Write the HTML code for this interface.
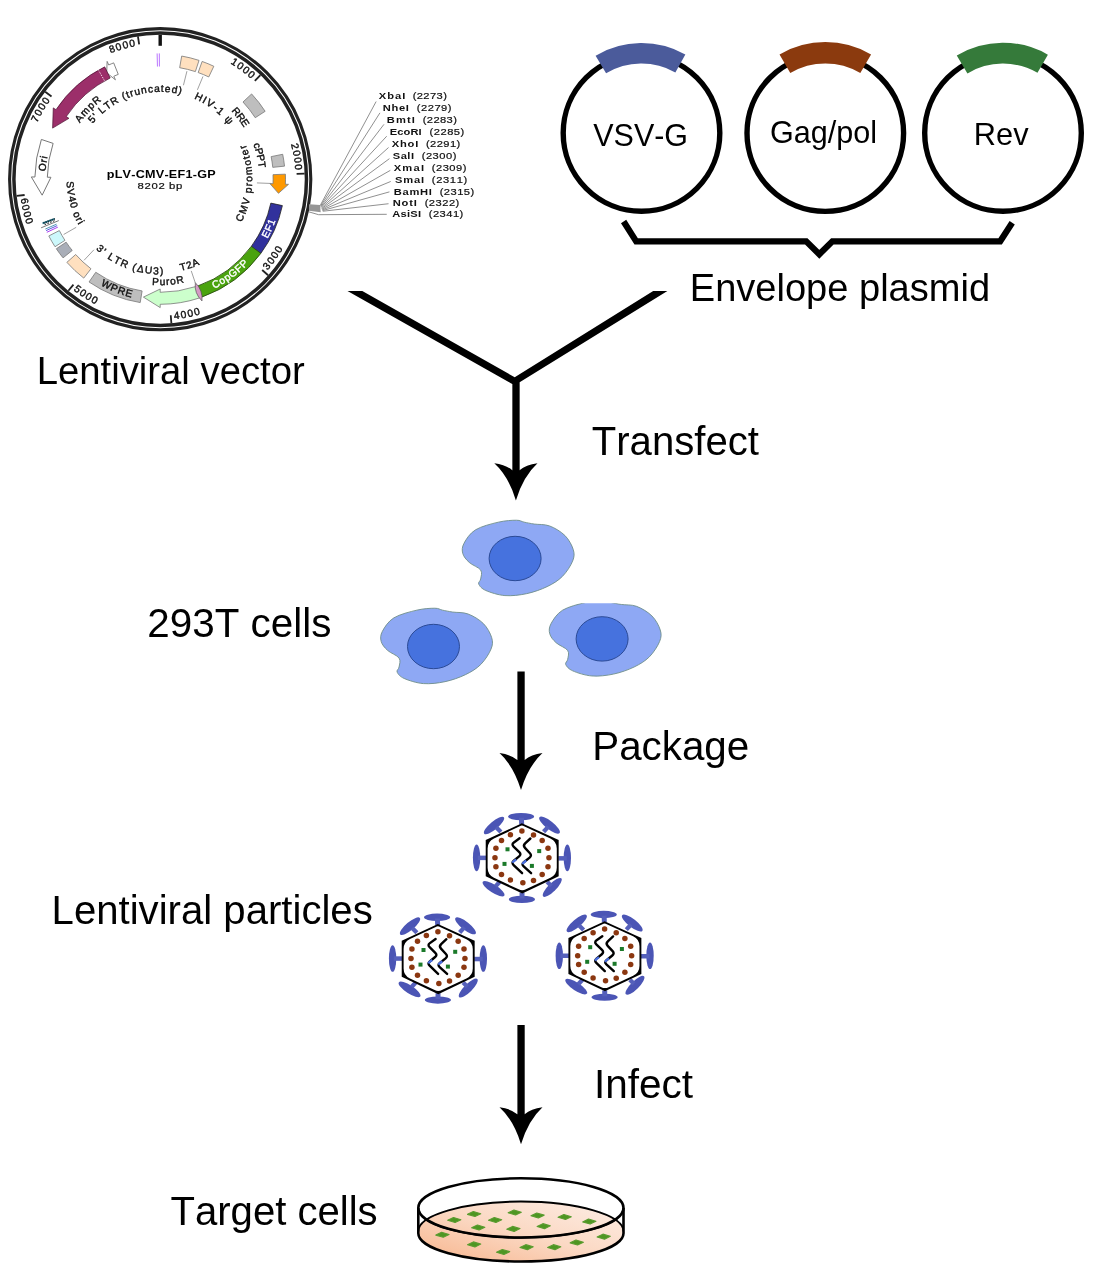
<!DOCTYPE html>
<html><head><meta charset="utf-8"><title>Lentiviral packaging workflow</title>
<style>
html,body{margin:0;padding:0;background:#fff;}
body{width:1096px;height:1275px;overflow:hidden;font-family:"Liberation Sans",sans-serif;}
svg{display:block;}
text{font-family:"Liberation Sans",sans-serif;font-kerning:none;}
</style></head><body>
<svg width="1096" height="1275" viewBox="0 0 1096 1275" style="will-change:transform">
<rect width="1096" height="1275" fill="#fff"/>
<defs><g id="cell"><path d="M516.42 520.22C512.16 520.22 505.35 520.54 498.54 522.13C491.73 523.73 481.29 526.29 475.55 529.80C469.80 533.31 466.18 539.27 464.05 543.21C461.92 547.15 461.92 550.24 462.77 553.43C463.62 556.62 466.18 559.60 469.16 562.37C472.14 565.14 478.74 567.27 480.66 570.03C482.57 572.80 480.97 576.63 480.66 578.97C480.34 581.32 477.89 582.17 478.74 584.08C479.59 586.00 481.40 588.55 485.76 590.47C490.13 592.39 498.11 595.05 504.92 595.58C511.74 596.11 519.61 595.15 526.64 593.66C533.66 592.17 541.11 589.51 547.07 586.64C553.04 583.76 558.14 580.68 562.40 576.42C566.66 572.16 570.81 565.56 572.62 561.09C574.43 556.62 574.54 553.85 573.26 549.60C571.98 545.34 568.90 539.48 564.96 535.55C561.02 531.61 554.74 527.88 549.63 525.97C544.52 524.05 538.56 524.69 534.30 524.05C530.04 523.41 527.06 522.77 524.08 522.13C521.10 521.50 520.68 520.22 516.42 520.22Z" fill="#8EA8F4" stroke="#6F8F8A" stroke-width="0.9"/><ellipse cx="515.1" cy="558.5" rx="26" ry="22.2" fill="#4672DE" stroke="#2B4A96" stroke-width="1"/></g><g id="virus"><ellipse cx="-0.83" cy="-41.51" rx="13.05" ry="3.68" transform="rotate(0 -0.83 -41.51)" fill="#4B55B5"/><ellipse cx="0.00" cy="41.28" rx="13.05" ry="3.56" transform="rotate(0 0.00 41.28)" fill="#4B55B5"/><ellipse cx="-45.31" cy="-0.24" rx="3.68" ry="13.28" transform="rotate(0 -45.31 -0.24)" fill="#4B55B5"/><ellipse cx="45.43" cy="-0.24" rx="3.68" ry="13.28" transform="rotate(0 45.43 -0.24)" fill="#4B55B5"/><ellipse cx="-27.87" cy="-32.62" rx="12.81" ry="4.03" transform="rotate(-40 -27.87 -32.62)" fill="#4B55B5"/><ellipse cx="27.64" cy="-32.97" rx="12.81" ry="4.03" transform="rotate(38 27.64 -32.97)" fill="#4B55B5"/><ellipse cx="-28.35" cy="30.60" rx="12.81" ry="4.03" transform="rotate(33 -28.35 30.60)" fill="#4B55B5"/><ellipse cx="30.36" cy="29.30" rx="12.81" ry="4.03" transform="rotate(-45 30.36 29.30)" fill="#4B55B5"/><line x1="-0.47" y1="-40.33" x2="-0.24" y2="-33.80" stroke="#5560BB" stroke-width="4.98"/><line x1="0.12" y1="34.40" x2="0.12" y2="40.33" stroke="#5560BB" stroke-width="4.98"/><line x1="-44.12" y1="-0.24" x2="-35.58" y2="-0.24" stroke="#5560BB" stroke-width="4.51"/><line x1="36.29" y1="0.24" x2="44.83" y2="0.24" stroke="#5560BB" stroke-width="4.51"/><line x1="-25.74" y1="-30.84" x2="-20.99" y2="-26.09" stroke="#5560BB" stroke-width="4.27"/><line x1="26.45" y1="-31.43" x2="21.71" y2="-26.33" stroke="#5560BB" stroke-width="4.27"/><line x1="-26.33" y1="28.23" x2="-22.18" y2="23.72" stroke="#5560BB" stroke-width="4.27"/><line x1="29.42" y1="27.87" x2="25.26" y2="23.72" stroke="#5560BB" stroke-width="4.27"/><polygon points="0.00,-34.87 36.77,-18.03 36.77,18.03 0.36,35.35 -36.18,18.03 -36.18,-18.03" fill="#000"/><path d="M-1.09 -32.23Q0.00 -32.74 1.09 -32.24L28.51 -19.65Q34.87 -16.72 34.87 -9.72L34.87 9.72Q34.87 16.72 28.54 19.71L3.97 31.27Q0.36 32.97 -3.27 31.27L-27.94 19.70Q-34.28 16.72 -34.28 9.72L-34.28 -9.72Q-34.28 -16.72 -27.94 -19.69Z" fill="#fff"/><circle cx="0.00" cy="-27.04" r="2.75" fill="#8B3710"/><circle cx="11.62" cy="-23.13" r="2.75" fill="#8B3710"/><circle cx="20.28" cy="-17.55" r="2.75" fill="#8B3710"/><circle cx="26.09" cy="-9.73" r="2.75" fill="#8B3710"/><circle cx="27.04" cy="-0.24" r="2.75" fill="#8B3710"/><circle cx="26.09" cy="8.54" r="2.75" fill="#8B3710"/><circle cx="20.28" cy="16.37" r="2.75" fill="#8B3710"/><circle cx="11.62" cy="22.30" r="2.75" fill="#8B3710"/><circle cx="0.95" cy="24.67" r="2.75" fill="#8B3710"/><circle cx="-11.51" cy="21.94" r="2.75" fill="#8B3710"/><circle cx="-20.40" cy="16.37" r="2.75" fill="#8B3710"/><circle cx="-25.98" cy="8.54" r="2.75" fill="#8B3710"/><circle cx="-26.92" cy="-0.24" r="2.75" fill="#8B3710"/><circle cx="-25.98" cy="-9.73" r="2.75" fill="#8B3710"/><circle cx="-20.40" cy="-17.55" r="2.75" fill="#8B3710"/><circle cx="-11.51" cy="-23.37" r="2.75" fill="#8B3710"/><rect x="-16.40" y="-10.80" width="4.0" height="4.0" fill="#1B7A2A"/><rect x="15.30" y="-9.00" width="4.0" height="4.0" fill="#1B7A2A"/><rect x="-19.40" y="3.80" width="4.0" height="4.0" fill="#1B7A2A"/><rect x="8.00" y="5.80" width="4.0" height="4.0" fill="#1B7A2A"/><path d="M-2.30 -19.80L-8.01 -15.67Q-10.60 -13.80 -8.30 -11.57L-2.60 -6.03Q-0.30 -3.80 -2.77 -1.76L-8.13 2.66Q-10.60 4.70 -8.29 6.92L0.20 15.10" fill="none" stroke="#000" stroke-width="2.4" stroke-linecap="round" stroke-linejoin="round"/><path d="M8.50 -19.60L3.24 -14.68Q0.90 -12.50 3.08 -10.16L8.02 -4.84Q10.20 -2.50 7.71 -0.49L1.89 4.19Q-0.60 6.20 1.77 8.35L9.20 15.10" fill="none" stroke="#000" stroke-width="2.4" stroke-linecap="round" stroke-linejoin="round"/><path d="M-5.6 1.3Q-8.5 3 -9.6 4.6" fill="none" stroke="#4A6FE0" stroke-width="2.3" stroke-linecap="butt"/><path d="M4.4 2.4Q1.5 4.3 0.4 5.9" fill="none" stroke="#4A6FE0" stroke-width="2.3" stroke-linecap="butt"/></g><clipPath id="cellclip"><rect x="540" y="603.3" width="130" height="90"/></clipPath></defs>
<g font-family="Liberation Sans, sans-serif">
<circle cx="160.2" cy="179.2" r="150.6" fill="none" stroke="#222" stroke-width="3.1"/>
<circle cx="160.2" cy="179.2" r="146.3" fill="none" stroke="#222" stroke-width="3.5"/>
<line x1="260.38" y1="75.07" x2="254.84" y2="80.83" stroke="#222" stroke-width="1.8"/>
<line x1="304.59" y1="173.61" x2="296.60" y2="173.92" stroke="#222" stroke-width="1.8"/>
<line x1="268.13" y1="275.28" x2="262.16" y2="269.96" stroke="#222" stroke-width="1.8"/>
<line x1="171.37" y1="323.27" x2="170.75" y2="315.29" stroke="#222" stroke-width="1.8"/>
<line x1="68.37" y1="290.77" x2="73.45" y2="284.59" stroke="#222" stroke-width="1.8"/>
<line x1="16.67" y1="195.93" x2="24.62" y2="195.01" stroke="#222" stroke-width="1.8"/>
<line x1="45.17" y1="91.75" x2="51.53" y2="96.59" stroke="#222" stroke-width="1.8"/>
<line x1="137.93" y1="36.43" x2="139.16" y2="44.33" stroke="#222" stroke-width="1.8"/>
<line x1="160.20" y1="34.70" x2="160.20" y2="45.80" stroke="#111" stroke-width="3.4"/>
<path id="lp1" d="M174.80 44.64A135.35 135.35 0 0 1 285.51 128.04" fill="none"/><text font-size="10.2" fill="#111" stroke="#111" stroke-width="0.4" font-weight="normal" letter-spacing="1.178" ><textPath href="#lp1" startOffset="50%" text-anchor="middle">1000</textPath></text>
<path id="lp2" d="M264.01 92.35A135.35 135.35 0 0 1 285.97 229.21" fill="none"/><text font-size="10.2" fill="#111" stroke="#111" stroke-width="0.4" font-weight="normal" letter-spacing="1.178" ><textPath href="#lp2" startOffset="50%" text-anchor="middle">2000</textPath></text>
<path id="lp3" d="M218.89 307.24A140.85 140.85 0 0 0 300.71 188.96" fill="none"/><text font-size="10.2" fill="#111" stroke="#111" stroke-width="0.4" font-weight="normal" letter-spacing="1.333" ><textPath href="#lp3" startOffset="50%" text-anchor="middle">3000</textPath></text>
<path id="lp4" d="M113.72 312.16A140.85 140.85 0 0 0 254.69 283.65" fill="none"/><text font-size="10.2" fill="#111" stroke="#111" stroke-width="0.4" font-weight="normal" letter-spacing="1.333" ><textPath href="#lp4" startOffset="50%" text-anchor="middle">4000</textPath></text>
<path id="lp5" d="M34.53 242.80A140.85 140.85 0 0 0 155.88 319.98" fill="none"/><text font-size="10.2" fill="#111" stroke="#111" stroke-width="0.4" font-weight="normal" letter-spacing="1.333" ><textPath href="#lp5" startOffset="50%" text-anchor="middle">5000</textPath></text>
<path id="lp6" d="M25.54 137.90A140.85 140.85 0 0 0 59.48 277.66" fill="none"/><text font-size="10.2" fill="#111" stroke="#111" stroke-width="0.4" font-weight="normal" letter-spacing="1.333" ><textPath href="#lp6" startOffset="50%" text-anchor="middle">6000</textPath></text>
<path id="lp7" d="M24.85 180.28A135.35 135.35 0 0 1 94.87 60.66" fill="none"/><text font-size="10.2" fill="#111" stroke="#111" stroke-width="0.4" font-weight="normal" letter-spacing="1.178" ><textPath href="#lp7" startOffset="50%" text-anchor="middle">7000</textPath></text>
<path id="lp8" d="M61.91 86.14A135.35 135.35 0 0 1 195.31 48.48" fill="none"/><text font-size="10.2" fill="#111" stroke="#111" stroke-width="0.4" font-weight="normal" letter-spacing="1.178" ><textPath href="#lp8" startOffset="50%" text-anchor="middle">8000</textPath></text>
<path d="M181.69 56.06A125.0 125.0 0 0 1 199.03 60.39L195.37 71.60A113.2 113.2 0 0 0 179.66 67.69Z" fill="#FFE0BF" stroke="#777" stroke-width="0.8"/>
<path d="M202.13 61.44A125.0 125.0 0 0 1 213.82 66.28L208.76 76.94A113.2 113.2 0 0 0 198.17 72.56Z" fill="#FFE0BF" stroke="#777" stroke-width="0.8"/>
<path d="M251.62 93.95A125.0 125.0 0 0 1 265.15 111.30L255.24 117.71A113.2 113.2 0 0 0 242.99 102.00Z" fill="#BEBEBE" stroke="#777" stroke-width="0.8"/>
<path d="M282.69 154.28A125.0 125.0 0 0 1 284.52 166.13L272.78 167.37A113.2 113.2 0 0 0 271.13 156.63Z" fill="#BEBEBE" stroke="#777" stroke-width="0.8"/>
<path d="M285.40 174.17A125.3 125.3 0 0 1 285.40 184.23L288.50 184.35L278.46 193.30L269.91 183.61L273.01 183.73A112.89999999999999 112.89999999999999 0 0 0 273.01 174.67Z" fill="#FF9900" stroke="#777" stroke-width="0.8" stroke-linejoin="miter"/>
<path d="M282.38 205.62A125.0 125.0 0 0 1 260.81 253.38L251.31 246.38A113.2 113.2 0 0 0 270.84 203.12Z" fill="#31319C" stroke="#222" stroke-width="0.8"/>
<path d="M260.81 253.38A125.0 125.0 0 0 1 202.13 296.96L198.17 285.84A113.2 113.2 0 0 0 251.31 246.38Z" fill="#4AA30E" stroke="#2c4f12" stroke-width="0.9"/>
<path d="M199.69 297.90A125.1 125.1 0 0 1 160.20 304.30L160.20 307.60L143.42 297.11L160.20 289.00L160.20 292.30A113.1 113.1 0 0 0 195.90 286.52Z" fill="#CCFFCC" stroke="#777" stroke-width="0.8" stroke-linejoin="miter"/>
<path d="M195.33 282.70Q203.04 290.22 201.99 300.92Q194.00 293.30 195.33 282.70Z" fill="#D59AC4" stroke="#555" stroke-width="0.7"/>
<path d="M140.21 302.59A125.0 125.0 0 0 1 89.04 281.97L95.76 272.27A113.2 113.2 0 0 0 142.10 290.94Z" fill="#BEBEBE" stroke="#777" stroke-width="0.8"/>
<path d="M83.76 278.10A125.0 125.0 0 0 1 66.87 262.35L75.68 254.50A113.2 113.2 0 0 0 90.98 268.77Z" fill="#FFE0BF" stroke="#777" stroke-width="0.8"/>
<path d="M63.06 257.87A125.0 125.0 0 0 1 56.33 248.74L66.13 242.17A113.2 113.2 0 0 0 72.23 250.44Z" fill="#A9AEB8" stroke="#777" stroke-width="0.8"/>
<path d="M55.01 246.73A125.0 125.0 0 0 1 48.82 235.95L59.34 230.59A113.2 113.2 0 0 0 64.94 240.36Z" fill="#CDF8FB" stroke="#777" stroke-width="0.8"/>
<line x1="57.87" y1="227.13" x2="46.82" y2="232.31" stroke="#A428F0" stroke-width="0.9"/>
<line x1="57.17" y1="225.61" x2="46.05" y2="230.62" stroke="#4B4BD8" stroke-width="0.9"/>
<line x1="56.53" y1="224.17" x2="45.34" y2="229.02" stroke="#3C8CAA" stroke-width="0.9"/>
<line x1="58.82" y1="220.57" x2="41.13" y2="227.79" stroke="#555" stroke-width="0.8"/>
<line x1="54.56" y1="220.71" x2="44.32" y2="224.73" stroke="#111" stroke-width="1.0" stroke-dasharray="1.6 1.4"/>
<line x1="54.67" y1="218.76" x2="42.59" y2="223.29" stroke="#1E6E84" stroke-width="1.8"/>
<line x1="54.67" y1="218.76" x2="42.59" y2="223.29" stroke="#0a0a0a" stroke-width="1.8" stroke-dasharray="0.7 1.5"/>
<path d="M41.38 139.44A125.3 125.3 0 0 0 34.92 177.01L31.32 176.95L42.17 195.16L50.92 177.29L47.32 177.23A112.89999999999999 112.89999999999999 0 0 1 53.13 143.38Z" fill="#FFFFFF" stroke="#777" stroke-width="1.0" stroke-linejoin="miter"/>
<path d="M113.67 62.86A125.3 125.3 0 0 0 108.74 64.96L107.14 61.40L106.69 72.80L115.43 79.82L113.83 76.26A112.89999999999999 112.89999999999999 0 0 1 118.27 74.37Z" fill="#FFFFFF" stroke="#777" stroke-width="0.9" stroke-linejoin="miter"/>
<path d="M104.68 66.87A125.3 125.3 0 0 0 55.96 109.68L53.29 107.90L52.61 128.11L68.93 118.33L66.27 116.56A112.89999999999999 112.89999999999999 0 0 1 110.18 77.99Z" fill="#9C2F6A" stroke="#4a1030" stroke-width="0.7" stroke-linejoin="miter"/>
<line x1="104.46" y1="80.68" x2="98.65" y2="70.41" stroke="#fff" stroke-width="0.8" stroke-dasharray="1.5 1.2"/>
<line x1="157.45" y1="66.53" x2="157.13" y2="53.44" stroke="#B266FF" stroke-width="0.9"/>
<line x1="159.41" y1="66.50" x2="159.32" y2="53.40" stroke="#B266FF" stroke-width="0.9"/>
<line x1="186.94" y1="71.16" x2="183.45" y2="85.23" stroke="#888" stroke-width="0.8"/>
<line x1="202.97" y1="76.45" x2="197.40" y2="89.83" stroke="#888" stroke-width="0.8"/>
<line x1="271.42" y1="183.47" x2="256.93" y2="182.92" stroke="#888" stroke-width="0.8"/>
<line x1="195.88" y1="284.62" x2="191.24" y2="270.89" stroke="#888" stroke-width="0.8"/>
<line x1="84.01" y1="260.33" x2="93.94" y2="249.76" stroke="#888" stroke-width="0.8"/>
<line x1="63.62" y1="234.51" x2="76.20" y2="227.31" stroke="#888" stroke-width="0.8"/>
<path id="lp9" d="M63.71 162.36A97.95 97.95 0 0 1 141.17 83.12" fill="none"/><text font-size="10.2" fill="#111" stroke="#111" stroke-width="0.4" font-weight="normal" letter-spacing="0.992" ><textPath href="#lp9" startOffset="50%" text-anchor="middle">AmpR</textPath></text>
<path id="lp10" d="M75.67 157.18A87.35 87.35 0 0 1 215.41 111.51" fill="none"/><text font-size="10.2" fill="#111" stroke="#111" stroke-width="0.4" font-weight="normal" letter-spacing="0.964" ><textPath href="#lp10" startOffset="50%" text-anchor="middle">5' LTR (truncated)</textPath></text>
<path id="lp11" d="M157.00 91.91A87.35 87.35 0 0 1 245.41 160.00" fill="none"/><text font-size="10.2" fill="#111" stroke="#111" stroke-width="0.4" font-weight="normal" letter-spacing="1.315" ><textPath href="#lp11" startOffset="50%" text-anchor="middle">HIV-1 ψ</textPath></text>
<path id="lp12" d="M195.77 87.51A98.35 98.35 0 0 1 257.88 167.73" fill="none"/><text font-size="10.2" fill="#111" stroke="#111" stroke-width="0.4" font-weight="normal" letter-spacing="-0.256" ><textPath href="#lp12" startOffset="50%" text-anchor="middle">RRE</textPath></text>
<path id="lp13" d="M229.71 108.22A99.35 99.35 0 0 1 254.42 210.72" fill="none"/><text font-size="10.2" fill="#111" stroke="#111" stroke-width="0.4" font-weight="normal" letter-spacing="-0.122" ><textPath href="#lp13" startOffset="50%" text-anchor="middle">cPPT</textPath></text>
<path id="lp14" d="M215.66 252.79A92.15 92.15 0 0 0 221.86 110.72" fill="none"/><text font-size="10.2" fill="#111" stroke="#111" stroke-width="0.4" font-weight="normal" letter-spacing="1.309" ><textPath href="#lp14" startOffset="50%" text-anchor="middle">CMV promoter</textPath></text>
<path id="lp15" d="M231.86 278.74A122.65 122.65 0 0 0 282.23 166.91" fill="none"/><text font-size="10.2" fill="#fff" stroke="#fff" stroke-width="0.4" font-weight="normal" letter-spacing="0.543" ><textPath href="#lp15" startOffset="50%" text-anchor="middle">EF1</textPath></text>
<path id="lp16" d="M162.97 301.42A122.25 122.25 0 0 0 276.13 217.99" fill="none"/><text font-size="10.2" fill="#fff" stroke="#fff" stroke-width="0.4" font-weight="normal" letter-spacing="0.57" ><textPath href="#lp16" startOffset="50%" text-anchor="middle">CopGFP</textPath></text>
<path id="lp17" d="M140.00 271.06A94.05 94.05 0 0 0 232.67 239.15" fill="none"/><text font-size="10.2" fill="#111" stroke="#111" stroke-width="0.4" font-weight="normal" letter-spacing="0.768" ><textPath href="#lp17" startOffset="50%" text-anchor="middle">T2A</textPath></text>
<path id="lp18" d="M108.19 271.51A105.95 105.95 0 0 0 226.16 262.12" fill="none"/><text font-size="10.2" fill="#111" stroke="#111" stroke-width="0.4" font-weight="normal" letter-spacing="0.838" ><textPath href="#lp18" startOffset="50%" text-anchor="middle">PuroR</textPath></text>
<path id="lp19" d="M61.29 250.02A121.65 121.65 0 0 0 184.87 298.32" fill="none"/><text font-size="10.2" fill="#111" stroke="#111" stroke-width="0.4" font-weight="normal" letter-spacing="0.896" ><textPath href="#lp19" startOffset="50%" text-anchor="middle">WPRE</textPath></text>
<path id="lp20" d="M72.36 215.77A95.15 95.15 0 0 0 204.14 263.60" fill="none"/><text font-size="10.2" fill="#111" stroke="#111" stroke-width="0.4" font-weight="normal" letter-spacing="1.343" ><textPath href="#lp20" startOffset="50%" text-anchor="middle">3' LTR (ΔU3)</textPath></text>
<path id="lp21" d="M74.32 141.86A93.65 93.65 0 0 0 106.22 255.73" fill="none"/><text font-size="10.2" fill="#111" stroke="#111" stroke-width="0.4" font-weight="normal" letter-spacing="0.892" ><textPath href="#lp21" startOffset="50%" text-anchor="middle">SV40 ori</textPath></text>
<path id="lp22" d="M53.85 222.82A114.95 114.95 0 0 1 69.25 108.90" fill="none"/><text font-size="10.2" fill="#111" stroke="#111" stroke-width="0.4" font-weight="normal" letter-spacing="0.55" ><textPath href="#lp22" startOffset="50%" text-anchor="middle">Ori</textPath></text>
<text transform="translate(106.7 178.4) scale(1.25 1)" font-size="10.1" font-weight="bold" letter-spacing="0.192" fill="#000">pLV-CMV-EF1-GP</text>
<text transform="translate(137.6 189.0) scale(1.18 1)" font-size="9.6" stroke="#111" stroke-width="0.2" letter-spacing="0.544" fill="#111">8202 bp</text>
<path d="M309.0 204.2L320.1 205.0L320.70000000000005 212.2L309.0 210.8Z" fill="#959595"/>
<line x1="320.30" y1="205.30" x2="376.13" y2="101.53" stroke="#7c7c7c" stroke-width="0.85"/>
<text transform="translate(378.87 98.8) scale(1.15 1)" font-size="9.7" font-weight="bold" letter-spacing="0.841" fill="#111">XbaI</text>
<text transform="translate(412.63 98.8) scale(1.15 1)" font-size="9.7" stroke="#111" stroke-width="0.2" letter-spacing="0.357" fill="#111">(2273)</text>
<line x1="320.58" y1="205.96" x2="379.96" y2="112.85" stroke="#7c7c7c" stroke-width="0.85"/>
<text transform="translate(382.7 110.66) scale(1.15 1)" font-size="9.7" font-weight="bold" letter-spacing="0.611" fill="#111">NheI</text>
<text transform="translate(416.82 110.66) scale(1.15 1)" font-size="9.7" stroke="#111" stroke-width="0.2" letter-spacing="0.423" fill="#111">(2279)</text>
<line x1="320.86" y1="206.62" x2="383.98" y2="124.34" stroke="#7c7c7c" stroke-width="0.85"/>
<text transform="translate(386.72 122.52) scale(1.15 1)" font-size="9.7" font-weight="bold" letter-spacing="1.012" fill="#111">BmtI</text>
<text transform="translate(422.66 122.52) scale(1.15 1)" font-size="9.7" stroke="#111" stroke-width="0.2" letter-spacing="0.359" fill="#111">(2283)</text>
<line x1="321.14" y1="207.28" x2="386.72" y2="136.20" stroke="#7c7c7c" stroke-width="0.85"/>
<text transform="translate(389.82 134.56) scale(1.15 1)" font-size="9.7" font-weight="bold" letter-spacing="0.069" fill="#111">EcoRI</text>
<text transform="translate(429.6 134.56) scale(1.15 1)" font-size="9.7" stroke="#111" stroke-width="0.2" letter-spacing="0.421" fill="#111">(2285)</text>
<line x1="321.42" y1="207.94" x2="388.54" y2="147.52" stroke="#7c7c7c" stroke-width="0.85"/>
<text transform="translate(391.82 146.61) scale(1.15 1)" font-size="9.7" font-weight="bold" letter-spacing="0.664" fill="#111">XhoI</text>
<text transform="translate(425.95 146.61) scale(1.15 1)" font-size="9.7" stroke="#111" stroke-width="0.2" letter-spacing="0.359" fill="#111">(2291)</text>
<line x1="321.70" y1="208.60" x2="389.45" y2="158.65" stroke="#7c7c7c" stroke-width="0.85"/>
<text transform="translate(392.74 158.65) scale(1.15 1)" font-size="9.7" font-weight="bold" letter-spacing="0.437" fill="#111">SalI</text>
<text transform="translate(421.75 158.65) scale(1.15 1)" font-size="9.7" stroke="#111" stroke-width="0.2" letter-spacing="0.421" fill="#111">(2300)</text>
<line x1="321.98" y1="209.26" x2="390.36" y2="170.33" stroke="#7c7c7c" stroke-width="0.85"/>
<text transform="translate(393.65 170.69) scale(1.15 1)" font-size="9.7" font-weight="bold" letter-spacing="1.104" fill="#111">XmaI</text>
<text transform="translate(431.79 170.69) scale(1.15 1)" font-size="9.7" stroke="#111" stroke-width="0.2" letter-spacing="0.421" fill="#111">(2309)</text>
<line x1="322.26" y1="209.92" x2="390.73" y2="181.46" stroke="#7c7c7c" stroke-width="0.85"/>
<text transform="translate(394.93 182.55) scale(1.15 1)" font-size="9.7" font-weight="bold" letter-spacing="0.733" fill="#111">SmaI</text>
<text transform="translate(431.79 182.55) scale(1.15 1)" font-size="9.7" stroke="#111" stroke-width="0.2" letter-spacing="0.565" fill="#111">(2311)</text>
<line x1="322.54" y1="210.58" x2="389.45" y2="191.86" stroke="#7c7c7c" stroke-width="0.85"/>
<text transform="translate(393.65 194.6) scale(1.15 1)" font-size="9.7" font-weight="bold" letter-spacing="0.649" fill="#111">BamHI</text>
<text transform="translate(439.64 194.6) scale(1.15 1)" font-size="9.7" stroke="#111" stroke-width="0.2" letter-spacing="0.421" fill="#111">(2315)</text>
<line x1="322.82" y1="211.24" x2="388.54" y2="203.72" stroke="#7c7c7c" stroke-width="0.85"/>
<text transform="translate(392.74 206.46) scale(1.15 1)" font-size="9.7" font-weight="bold" letter-spacing="0.694" fill="#111">NotI</text>
<text transform="translate(424.67 206.46) scale(1.15 1)" font-size="9.7" stroke="#111" stroke-width="0.2" letter-spacing="0.421" fill="#111">(2322)</text>
<polyline points="309.0,211.9 318.6,214.7 386.72,214.31" fill="none" stroke="#808080" stroke-width="0.9"/>
<text transform="translate(392.19 217.23) scale(1.15 1)" font-size="9.7" font-weight="bold" letter-spacing="0.202" fill="#111">AsiSI</text>
<text transform="translate(428.69 217.23) scale(1.15 1)" font-size="9.7" stroke="#111" stroke-width="0.2" letter-spacing="0.421" fill="#111">(2341)</text>
</g>
<circle cx="641.5" cy="133" r="78.3" fill="none" stroke="#000" stroke-width="5.4"/><path d="M595.60 55.70A89.9 89.9 0 0 1 685.36 54.52L675.36 72.42A69.4 69.4 0 0 0 606.07 73.33Z" fill="#4B5B9B"/><circle cx="825.3" cy="133.1" r="78.3" fill="none" stroke="#000" stroke-width="5.4"/><path d="M779.53 54.45A91.0 91.0 0 0 1 871.07 54.45L860.31 72.95A69.6 69.6 0 0 0 790.29 72.95Z" fill="#8B3A0E"/><circle cx="1003" cy="133" r="78.3" fill="none" stroke="#000" stroke-width="5.4"/><path d="M956.76 55.44A90.3 90.3 0 0 1 1047.88 54.64L1037.49 72.78A69.4 69.4 0 0 0 967.46 73.39Z" fill="#357A3A"/>
<path d="M347.5 290.9L362.3 290.9L514.7 377.2L653.2 290.9L667.4 290.9L519.65 382.2L519.65 471L512.35 471L512.35 384.1L510.8 383.2Z" fill="#000"/><path d="M515.90 500.40Q508.60 476.20 494.30 463.20Q505.90 464.80 512.25 470.20L519.55 470.20Q525.90 464.80 537.50 463.20Q523.20 476.20 515.90 500.40Z" fill="#000"/><rect x="517.4" y="671.5" width="7.3" height="90" fill="#000"/><path d="M521.00 790.10Q513.70 766.10 499.50 753.10Q511.00 754.70 517.35 760.10L524.65 760.10Q531.00 754.70 542.50 753.10Q528.30 766.10 521.00 790.10Z" fill="#000"/><rect x="517.4" y="1025" width="7.3" height="90" fill="#000"/><path d="M521.00 1144.20Q513.70 1120.20 499.50 1107.20Q511.00 1108.80 517.35 1114.20L524.65 1114.20Q531.00 1108.80 542.50 1107.20Q528.30 1120.20 521.00 1144.20Z" fill="#000"/><path d="M623.6 221.5L636.2 241.3L806.2 241.3L819.3 254.3L832.4 241.3L1000.2 241.3L1012.2 222.8" fill="none" stroke="#000" stroke-width="6.2" stroke-linejoin="miter"/>
<use href="#cell"/>
<use href="#cell" transform="translate(-81.6 88)"/>
<g clip-path="url(#cellclip)"><use href="#cell" transform="translate(87 80.4)"/></g>
<use href="#virus" transform="translate(521.9 858.1)"/>
<use href="#virus" transform="translate(437.9 958.8)"/>
<use href="#virus" transform="translate(604.6 956.0)"/>
<defs><linearGradient id="liq" x1="0" y1="1" x2="1" y2="0"><stop offset="0" stop-color="#F7B48C"/><stop offset="0.5" stop-color="#FBD9C4"/><stop offset="1" stop-color="#FDEEE6"/></linearGradient><clipPath id="dishclip"><path d="M418.30 1207.90A102.6 29.6 0 0 1 623.50 1207.90L623.50 1233.20A102.6 28.3 0 0 1 418.30 1233.20Z"/></clipPath></defs><g clip-path="url(#dishclip)"><path d="M418.30 1231.40A102.6 29.8 0 0 1 623.50 1231.40L623.50 1233.20A102.6 28.3 0 0 1 418.30 1233.20Z" fill="url(#liq)"/></g><path d="M467.53 1214.36L473.33 1211.56L480.73 1213.76L474.93 1216.56Z" fill="#4E9622" stroke="#5a9c30" stroke-width="1.1" stroke-linejoin="round"/><path d="M508.14 1212.76L513.94 1209.96L521.34 1212.16L515.54 1214.96Z" fill="#4E9622" stroke="#5a9c30" stroke-width="1.1" stroke-linejoin="round"/><path d="M530.95 1215.73L536.75 1212.93L544.15 1215.13L538.35 1217.93Z" fill="#4E9622" stroke="#5a9c30" stroke-width="1.1" stroke-linejoin="round"/><path d="M558.09 1217.33L563.89 1214.53L571.29 1216.73L565.49 1219.53Z" fill="#4E9622" stroke="#5a9c30" stroke-width="1.1" stroke-linejoin="round"/><path d="M582.72 1221.89L588.52 1219.09L595.92 1221.29L590.12 1224.09Z" fill="#4E9622" stroke="#5a9c30" stroke-width="1.1" stroke-linejoin="round"/><path d="M447.69 1220.29L453.49 1217.49L460.89 1219.69L455.09 1222.49Z" fill="#4E9622" stroke="#5a9c30" stroke-width="1.1" stroke-linejoin="round"/><path d="M488.52 1220.29L494.32 1217.49L501.72 1219.69L495.92 1222.49Z" fill="#4E9622" stroke="#5a9c30" stroke-width="1.1" stroke-linejoin="round"/><path d="M471.64 1227.82L477.44 1225.02L484.84 1227.22L479.04 1230.02Z" fill="#4E9622" stroke="#5a9c30" stroke-width="1.1" stroke-linejoin="round"/><path d="M506.77 1229.19L512.57 1226.39L519.97 1228.59L514.17 1231.39Z" fill="#4E9622" stroke="#5a9c30" stroke-width="1.1" stroke-linejoin="round"/><path d="M537.10 1226.45L542.90 1223.65L550.30 1225.85L544.50 1228.65Z" fill="#4E9622" stroke="#5a9c30" stroke-width="1.1" stroke-linejoin="round"/><path d="M435.83 1235.12L441.63 1232.32L449.03 1234.52L443.23 1237.32Z" fill="#4E9622" stroke="#5a9c30" stroke-width="1.1" stroke-linejoin="round"/><path d="M597.10 1236.94L602.90 1234.14L610.30 1236.34L604.50 1239.14Z" fill="#4E9622" stroke="#5a9c30" stroke-width="1.1" stroke-linejoin="round"/><path d="M467.53 1244.70L473.33 1241.90L480.73 1244.10L474.93 1246.90Z" fill="#4E9622" stroke="#5a9c30" stroke-width="1.1" stroke-linejoin="round"/><path d="M496.50 1252.23L502.30 1249.43L509.70 1251.63L503.90 1254.43Z" fill="#4E9622" stroke="#5a9c30" stroke-width="1.1" stroke-linejoin="round"/><path d="M520.00 1247.44L525.80 1244.64L533.20 1246.84L527.40 1249.64Z" fill="#4E9622" stroke="#5a9c30" stroke-width="1.1" stroke-linejoin="round"/><path d="M547.60 1247.44L553.40 1244.64L560.80 1246.84L555.00 1249.64Z" fill="#4E9622" stroke="#5a9c30" stroke-width="1.1" stroke-linejoin="round"/><path d="M570.18 1242.87L575.98 1240.07L583.38 1242.27L577.58 1245.07Z" fill="#4E9622" stroke="#5a9c30" stroke-width="1.1" stroke-linejoin="round"/><g clip-path="url(#dishclip)"><path d="M418.30 1231.40A102.6 29.8 0 0 1 623.50 1231.40" fill="none" stroke="#000" stroke-width="2.0"/></g><path d="M427.30 1220.20A102.6 29.6 0 0 0 614.50 1220.20" fill="none" stroke="#000" stroke-width="1.9"/><ellipse cx="520.9" cy="1207.9" rx="102.6" ry="29.6" fill="none" stroke="#000" stroke-width="2.6"/><path d="M418.30 1207.90L418.30 1233.20A102.6 28.3 0 0 0 623.50 1233.20L623.50 1207.90" fill="none" stroke="#000" stroke-width="2.6"/>
<g font-family="Liberation Sans, sans-serif"><text x="36.74" y="383.7" font-size="38.27" text-anchor="start" fill="#000">Lentiviral vector</text><text x="689.75" y="300.6" font-size="38.06" text-anchor="start" fill="#000">Envelope plasmid</text><text x="593.27" y="145.6" font-size="30.46" text-anchor="start" fill="#000">VSV-G</text><text x="769.95" y="143.3" font-size="30.55" text-anchor="start" fill="#000">Gag/pol</text><text x="973.87" y="144.5" font-size="30.77" text-anchor="start" fill="#000">Rev</text><text x="591.77" y="454.7" font-size="40.11" text-anchor="start" fill="#000">Transfect</text><text x="147.35" y="636.7" font-size="40.38" text-anchor="start" fill="#000">293T cells</text><text x="592.29" y="759.8" font-size="40.35" text-anchor="start" fill="#000">Package</text><text x="51.6" y="924.4" font-size="40.13" text-anchor="start" fill="#000">Lentiviral particles</text><text x="594.05" y="1097.5" font-size="40.48" text-anchor="start" fill="#000">Infect</text><text x="170.48" y="1224.6" font-size="40.1" text-anchor="start" fill="#000">Target cells</text></g>
</svg>
</body></html>
